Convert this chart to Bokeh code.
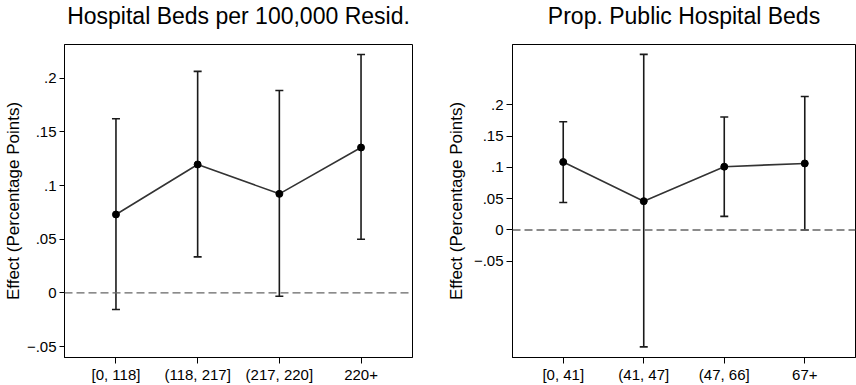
from bokeh.plotting import figure
from bokeh.layouts import row
from bokeh.models import Range1d, FixedTicker, Whisker, TeeHead, ColumnDataSource, Span
from bokeh.embed import file_html
from bokeh.resources import INLINE

FONT = "Liberation Sans"

# ---- data ----
x_pos = [1, 2, 3, 4]
beds_labels = ["[0, 118]", "(118, 217]", "(217, 220]", "220+"]
beds_est = [0.0731, 0.1197, 0.0923, 0.1355]
beds_lo = [-0.0154, 0.0336, -0.0031, 0.0500]
beds_hi = [0.1623, 0.2065, 0.1886, 0.2222]

pub_labels = ["[0, 41]", "(41, 47]", "(47, 66]", "67+"]
pub_est = [0.1086, 0.0460, 0.1011, 0.1063]
pub_lo = [0.0440, -0.1867, 0.0217, 0.0000]
pub_hi = [0.1730, 0.2805, 0.1805, 0.2133]

y_ticks = [-0.05, 0, 0.05, 0.1, 0.15, 0.2]
y_tick_labels = ["\u2212.05", "0", ".05", ".1", ".15", ".2"]

SHIFT = 16  # extra top space hidden by a negative margin


def make(title, labels, est, lo, hi, yr, width, mbl, mbr, tick_len, lab_standoff):
    p = figure(width=width, height=385 + SHIFT, output_backend="svg", toolbar_location=None,
               x_range=Range1d(0.37, 4.63), y_range=Range1d(*yr),
               min_border_left=mbl, min_border_right=mbr, min_border_top=44 + SHIFT,
               min_border_bottom=26)
    p.title.text = title
    p.title.align = "center"
    p.title.text_font = FONT
    p.title.text_font_size = "23px"
    p.title.text_font_style = "normal"
    p.title.text_color = "black"
    p.title.standoff = 32
    p.xgrid.visible = False
    p.ygrid.visible = False
    p.outline_line_color = "black"
    p.outline_line_width = 1
    p.background_fill_color = "white"
    p.border_fill_color = "white"

    # axes
    p.xaxis.ticker = FixedTicker(ticks=x_pos)
    p.xaxis.major_label_overrides = {x: l for x, l in zip(x_pos, labels)}
    p.yaxis.ticker = FixedTicker(ticks=y_ticks)
    p.yaxis.major_label_overrides = {t: l for t, l in zip(y_ticks, y_tick_labels)}
    p.yaxis.axis_label = "Effect (Percentage Points)"
    p.yaxis.axis_label_text_font = FONT
    p.yaxis.axis_label_text_font_size = "17px"
    p.yaxis.axis_label_text_font_style = "normal"
    p.yaxis.axis_label_text_color = "black"
    p.yaxis.axis_label_standoff = lab_standoff
    for ax in (p.xaxis, p.yaxis):
        ax.major_label_text_font = FONT
        ax.major_label_text_font_size = "15px"
        ax.major_label_text_color = "black"
        ax.minor_tick_line_color = None
        ax.major_tick_in = 0
        ax.major_tick_out = tick_len
        ax.major_tick_line_color = "black"
        ax.axis_line_color = "black"
        ax.major_label_standoff = 3
    p.xaxis.major_tick_out = 6
    p.xaxis.major_label_standoff = 2

    # zero reference line
    p.add_layout(Span(location=0, dimension="width", line_color="#666666",
                      line_width=1.3, line_dash="8 4"))

    src = ColumnDataSource(dict(x=x_pos, est=est, lo=lo, hi=hi))
    p.add_layout(Whisker(source=src, base="x", lower="lo", upper="hi",
                         line_color="#1a1a1a", line_width=1.6,
                         lower_head=TeeHead(size=8, line_color="#1a1a1a", line_width=1.6),
                         upper_head=TeeHead(size=8, line_color="#1a1a1a", line_width=1.6)))
    p.line("x", "est", source=src, line_color="#333333", line_width=1.6)
    p.scatter("x", "est", source=src, size=7, color="black")
    return p


p1 = make("Hospital Beds per 100,000 Resid.", beds_labels, beds_est, beds_lo, beds_hi,
          (-0.0602, 0.2315), 430, 61, 18, 5, 1)
p2 = make("Prop. Public Hospital Beds", pub_labels, pub_est, pub_lo, pub_hi,
          (-0.2037, 0.2963), 426, 82, 1, 6, 5)

layout = row(p1, p2, margin=(-SHIFT, 0, 0, 0))
open("out.html", "w").write(file_html(layout, INLINE))
